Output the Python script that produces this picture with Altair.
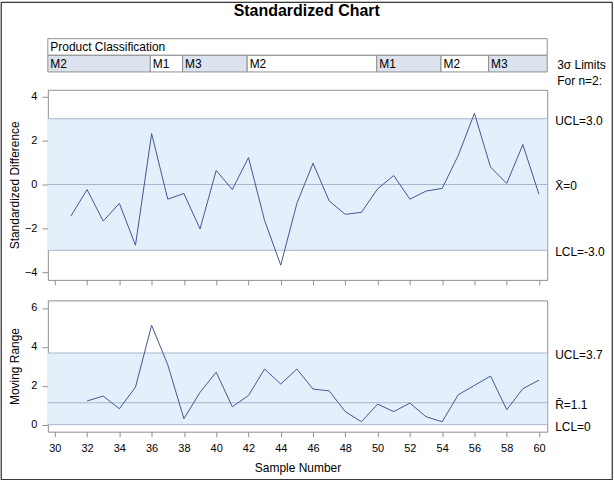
import altair as alt
import pandas as pd

# ---------------- data ----------------
samples = list(range(31, 61))
std_diff = [-1.44, -0.23, -1.67, -0.86, -2.77, 2.32, -0.67, -0.41, -2.03, 0.64,
            -0.23, 1.23, -1.64, -3.68, -0.86, 0.97, -0.75, -1.36, -1.27, -0.20,
            0.41, -0.67, -0.30, -0.18, 1.33, 3.25, 0.79, 0.05, 1.82, -0.45]

mr_samples = list(range(32, 61))
moving_range = [1.22, 1.47, 0.82, 1.93, 5.11, 3.08, 0.31, 1.66, 2.70, 0.92,
                1.50, 2.86, 2.09, 2.86, 1.83, 1.74, 0.67, 0.15, 1.06, 0.67,
                1.11, 0.41, 0.15, 1.54, 2.02, 2.50, 0.77, 1.85, 2.29]

up_limit_labels = ["UCL=3.0", "X\u0304=0", "LCL=-3.0"]
up_limit_values = [3.0, 0.0, -3.0]
lo_limit_labels = ["UCL=3.7", "R\u0304=1.1", "LCL=0"]
lo_limit_values = [3.686, 1.128, 0.0]

block_labels = ["M2", "M1", "M3", "M2", "M1", "M2", "M3"]
block_start = [29.57, 35.92, 37.92, 41.92, 49.95, 53.93, 56.88]
block_end = [35.92, 37.92, 41.92, 49.95, 53.93, 56.88, 60.51]
block_shade = ["y", "n", "y", "n", "y", "n", "y"]

side_lines = ["3\u03c3 Limits", "For n=2:"]

x_ticks = list(range(30, 61, 2))
up_ticks = [-4, -2, 0, 2, 4]
lo_ticks = [0, 2, 4, 6]

# ---------------- style ----------------
FONT = "Liberation Sans"
W = 501
H_UP = 190.7
H_LO = 131.7
H_HEAD = 30.7
BAND = "#E4EFFC"
LIMIT = "#A9B6CB"
LINE = "#445694"
FRAME = "#8F8F8F"
SHADE = "#DDE3EE"

xdom = [29.57, 60.51]
xscale = alt.Scale(domain=xdom, nice=False, zero=False)

df_up = pd.DataFrame({"sample": samples, "value": std_diff})
df_lo = pd.DataFrame({"sample": mr_samples, "value": moving_range})
df_up_lim = pd.DataFrame({"label": up_limit_labels, "value": up_limit_values})
df_lo_lim = pd.DataFrame({"label": lo_limit_labels, "value": lo_limit_values})
df_up_band = pd.DataFrame({"lo": [min(up_limit_values)], "hi": [max(up_limit_values)]})
df_lo_band = pd.DataFrame({"lo": [min(lo_limit_values)], "hi": [max(lo_limit_values)]})
df_blocks = pd.DataFrame({"start": block_start, "end": block_end,
                          "label": block_labels, "shade": block_shade,
                          "r0": [1] * 7, "r1": [2] * 7, "rm": [1.5] * 7})
df_head = pd.DataFrame({"start": [block_start[0]], "end": [block_end[-1]],
                        "label": ["Product Classification"], "r0": [0], "r1": [1],
                        "rm": [0.5]})
df_side = pd.DataFrame({"t": side_lines, "r": [1.58, 2.52]})


def panel(df, df_lim, df_band, ydom, yticks, ytitle, height, show_x_labels, extra=None):
    yscale = alt.Scale(domain=ydom, nice=False, zero=False)
    xaxis = alt.Axis(values=x_ticks, labels=show_x_labels, grid=False, domain=False,
                     tickSize=5, tickColor=FRAME, labelFontSize=11, labelPadding=6,
                     labelColor="black", labelFont=FONT,
                     title="Sample Number" if show_x_labels else None,
                     titleFontSize=12, titleFontWeight="normal", titleFont=FONT,
                     titlePadding=9, titleColor="black")
    yaxis = alt.Axis(values=yticks, grid=False, domain=False, tickSize=6,
                     tickColor=FRAME, labelFontSize=11, labelPadding=5,
                     labelColor="black", labelFont=FONT, title=ytitle,
                     titleFontSize=12, titleFontWeight="normal", titleFont=FONT,
                     titleColor="black", titleX=-26)
    band = alt.Chart(df_band).mark_rect(color=BAND).encode(
        x=alt.value(0), x2=alt.value(W),
        y=alt.Y("lo:Q", scale=yscale, axis=yaxis), y2="hi:Q")
    rules = alt.Chart(df_lim).mark_rule(color=LIMIT, strokeWidth=1).encode(
        x=alt.value(0), x2=alt.value(W), y=alt.Y("value:Q", scale=yscale))
    labels = alt.Chart(df_lim).mark_text(align="left", baseline="middle", dy=2,
                                         fontSize=12, font=FONT, color="black").encode(
        x=alt.value(W + 8), y=alt.Y("value:Q", scale=yscale), text="label:N")
    line = alt.Chart(df).mark_line(color=LINE, strokeWidth=1).encode(
        x=alt.X("sample:Q", scale=xscale, axis=xaxis),
        y=alt.Y("value:Q", scale=yscale))
    layers = [band, rules, line, labels]
    if extra is not None:
        layers.append(extra)
    return alt.layer(*layers).properties(width=W, height=height)


# outer black border of the whole picture (decoration)
border = alt.Chart(pd.DataFrame({"a": [0]})).mark_rect(
    fillOpacity=0, stroke="black", strokeWidth=1).encode(
    x=alt.value(-46.8), x2=alt.value(566.2), y=alt.value(-87.8), y2=alt.value(391.2))

upper = panel(df_up, df_up_lim, df_up_band, [-4.35, 4.32], up_ticks,
              "Standardized Difference", H_UP, False, extra=border)
lower = panel(df_lo, df_lo_lim, df_lo_band, [-0.36, 6.39], lo_ticks,
              "Moving Range", H_LO, True)

# ---------------- header (phase blocks) ----------------
hy = alt.Scale(domain=[0, 2], range=[0, 33.4], nice=False, zero=False)
head_row = alt.Chart(df_head).mark_rect(fill="white", stroke=FRAME, strokeWidth=1).encode(
    x=alt.X("start:Q", scale=xscale, axis=None), x2="end:Q",
    y=alt.Y("r0:Q", scale=hy, axis=None), y2="r1:Q")
head_txt = alt.Chart(df_head).mark_text(align="left", baseline="middle", dx=2.5, dy=0.5,
                                        fontSize=12, font=FONT, color="black").encode(
    x=alt.X("start:Q", scale=xscale, axis=None), y=alt.Y("rm:Q", scale=hy, axis=None),
    text="label:N")
blocks = alt.Chart(df_blocks).mark_rect(stroke=FRAME, strokeWidth=1).encode(
    x=alt.X("start:Q", scale=xscale, axis=None), x2="end:Q",
    y=alt.Y("r0:Q", scale=hy, axis=None), y2="r1:Q",
    fill=alt.Color("shade:N", scale=alt.Scale(domain=["y", "n"], range=[SHADE, "white"]),
                   legend=None))
block_txt = alt.Chart(df_blocks).mark_text(align="left", baseline="middle", dx=2.5, dy=0.5,
                                           fontSize=12, font=FONT, color="black").encode(
    x=alt.X("start:Q", scale=xscale, axis=None), y=alt.Y("rm:Q", scale=hy, axis=None),
    text="label:N")
side_txt = alt.Chart(df_side).mark_text(
    align="left", baseline="middle", fontSize=12, font=FONT, color="black").encode(
    x=alt.value(W + 10), y=alt.Y("r:Q", scale=hy, axis=None), text="t:N")
title_txt = alt.Chart(pd.DataFrame({"t": ["Standardized Chart"]})).mark_text(
    align="center", baseline="alphabetic", fontSize=16, fontWeight="bold",
    font=FONT, color="black").encode(x=alt.value(259.7), y=alt.value(-22.8), text="t:N")

header = alt.layer(head_row, head_txt, blocks, block_txt, side_txt, title_txt).properties(
    width=W, height=H_HEAD, view=alt.ViewBackground(strokeOpacity=0))

chart = alt.vconcat(header, upper, lower, spacing=20.3, bounds="flush").properties(
    padding={"left": 0, "top": 0, "right": 0, "bottom": 0},
    background="white").configure(font=FONT).configure_view(stroke=FRAME, strokeWidth=1)

chart.save("out.html", embed_options={"renderer": "svg", "actions": False})
